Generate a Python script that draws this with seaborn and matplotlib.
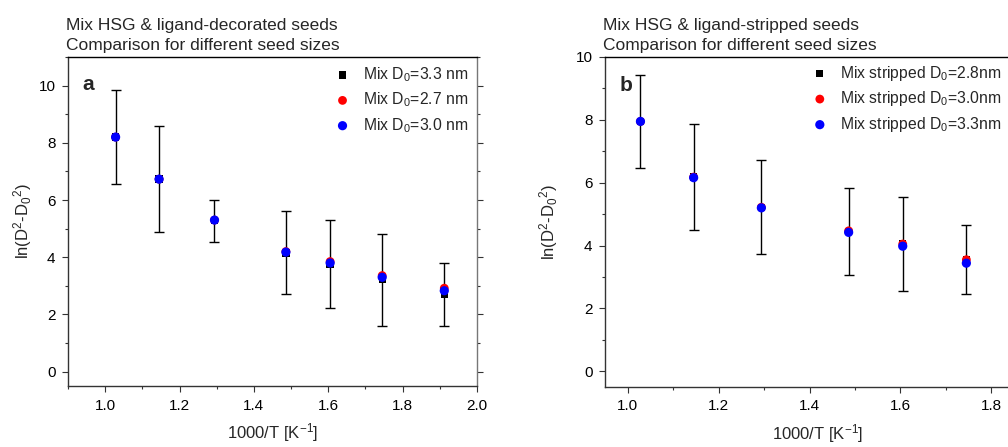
import numpy as np
import pandas as pd
import matplotlib
matplotlib.use("Agg")
import matplotlib.pyplot as plt
from matplotlib.ticker import MultipleLocator
import seaborn as sns

# ---------------- data ----------------
x_inv_T = [1.028, 1.145, 1.294, 1.486, 1.605, 1.745, 1.912]

a_labels = ["Mix D$_0$=3.3 nm", "Mix D$_0$=2.7 nm", "Mix D$_0$=3.0 nm"]
a_black = [8.20, 6.73, 5.28, 4.15, 3.75, 3.22, 2.70]
a_red = [8.20, 6.73, 5.30, 4.20, 3.85, 3.36, 2.92]
a_blue = [8.20, 6.73, 5.30, 4.18, 3.80, 3.30, 2.83]
a_err = [1.64, 1.85, 0.73, 1.45, 1.54, 1.61, 1.09]

x_b = [1.028, 1.145, 1.294, 1.486, 1.605, 1.745]
b_labels = ["Mix stripped D$_0$=2.8nm", "Mix stripped D$_0$=3.0nm", "Mix stripped D$_0$=3.3nm"]
b_black = [7.95, 6.18, 5.22, 4.45, 4.05, 3.55]
b_red = [7.95, 6.18, 5.22, 4.47, 4.05, 3.55]
b_blue = [7.95, 6.16, 5.20, 4.42, 3.98, 3.44]
b_err = [1.48, 1.69, 1.49, 1.39, 1.50, 1.10]

titles = ["Mix HSG & ligand-decorated seeds\nComparison for different seed sizes",
          "Mix HSG & ligand-stripped seeds\nComparison for different seed sizes"]
panel_tags = ["a", "b"]
xlabel = "1000/T [K$^{-1}$]"
ylabel = "ln(D$^2$-D$_0$$^2$)"

# ---------------- style ----------------
sns.set_style("ticks")
plt.rcParams["font.family"] = ["Liberation Sans", "DejaVu Sans"]
plt.rcParams["mathtext.fontset"] = "custom"
plt.rcParams["mathtext.rm"] = "Liberation Sans"
plt.rcParams["mathtext.it"] = "Liberation Sans:italic"
plt.rcParams["mathtext.bf"] = "Liberation Sans:bold"
plt.rcParams["mathtext.default"] = "regular"

W, H = 1008, 447
fig = plt.figure(figsize=(W / 100, H / 100), dpi=100)
ax_a = fig.add_axes([68 / W, 61 / H, 409 / W, 329 / H])
ax_b = fig.add_axes([605 / W, 60 / H, 425 / W, 330 / H])

colors = ["black", "red", "blue"]
markers = ["s", "o", "o"]
msizes = [28, 40, 44]


def draw(ax, x, series, labels, err, title, tag, xlim, ylim, leg_anchor, ypad):
    # error bars from the first (black) series
    ax.errorbar(x, series[0], yerr=err, fmt="none", ecolor="black",
                elinewidth=1.0, capsize=3.5, capthick=1.0, zorder=1)
    for ys, lab, c, m, s in zip(series, labels, colors, markers, msizes):
        df = pd.DataFrame({"x": x, "y": ys})
        sns.scatterplot(data=df, x="x", y="y", ax=ax, color=c, marker=m, s=s,
                        edgecolor="none", label=lab, zorder=3)
    ax.set_xlim(*xlim)
    ax.set_ylim(*ylim)
    ax.xaxis.set_major_locator(MultipleLocator(0.2))
    ax.xaxis.set_minor_locator(MultipleLocator(0.1))
    ax.yaxis.set_major_locator(MultipleLocator(2))
    ax.yaxis.set_minor_locator(MultipleLocator(1))
    ax.tick_params(which="major", direction="out", length=4, width=0.8,
                   labelsize=11, colors="#333333", labelcolor="black",
                   right=True, labelright=False, pad=5)
    ax.tick_params(which="minor", direction="out", length=2.5, width=0.8,
                   colors="#333333", right=True)
    for sp in ["left", "bottom"]:
        ax.spines[sp].set_color("#333333")
        ax.spines[sp].set_linewidth(1.0)
    ax.spines["top"].set_color("black")
    ax.spines["top"].set_linewidth(1.0)
    ax.spines["right"].set_color("#777777")
    ax.spines["right"].set_linewidth(1.0)
    ax.set_xlabel(xlabel, fontsize=12, labelpad=6)
    ax.set_ylabel(ylabel, fontsize=12, labelpad=ypad)
    ax.set_title(title, loc="left", fontsize=12.5, pad=5, linespacing=1.4,
                 x=-0.005)
    ax.text(0.035, 0.915, tag, transform=ax.transAxes,
            fontsize=15, fontweight="bold", va="center", ha="left")
    leg = ax.legend(loc="upper left", bbox_to_anchor=leg_anchor,
                    frameon=False, fontsize=11.3,
                    handletextpad=0.8, labelspacing=0.42, borderaxespad=0.0,
                    borderpad=0.0, handlelength=1.0)
    return leg


draw(ax_a, x_inv_T, [a_black, a_red, a_blue], a_labels, a_err, titles[0],
     panel_tags[0], (0.9, 2.0), (-0.5, 11), (0.652, 0.975), 3)
draw(ax_b, x_b, [b_black, b_red, b_blue], b_labels, b_err, titles[1],
     panel_tags[1], (0.95, 1.885), (-0.5, 10), (0.487, 0.98), 11)

fig.savefig("out.png", dpi=100)
